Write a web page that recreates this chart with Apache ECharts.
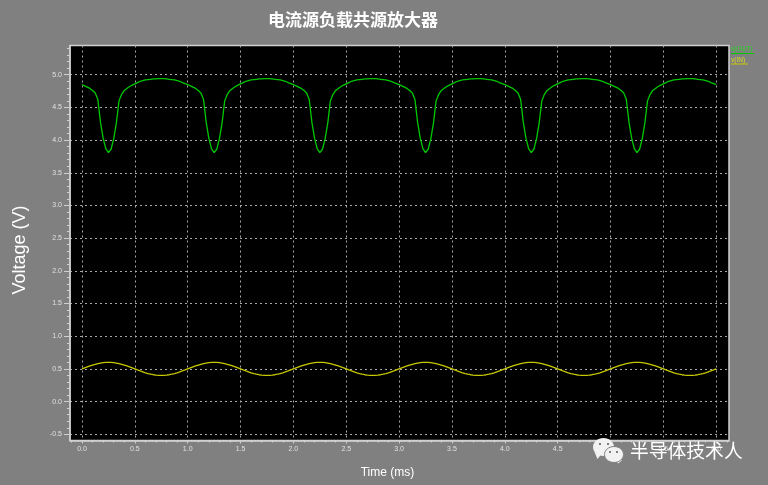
<!DOCTYPE html>
<html><head><meta charset="utf-8">
<style>html,body{margin:0;padding:0;background:#808080}#c{width:768px;height:485px}</style>
<script src="https://cdn.jsdelivr.net/npm/echarts@6/dist/echarts.min.js"></script>
</head><body><div id="c"></div>
<script>
const titleText = '电流源负载共源放大器';
const xName = 'Time (ms)';
const yName = 'Voltage (V)';
const watermark = '半导体技术人';
const xMajor = [0,0.5,1,1.5,2,2.5,3,3.5,4,4.5,5,5.5,6];
const yMajor = [-0.5,0,0.5,1,1.5,2,2.5,3,3.5,4,4.5,5];
const xMinor = [-0.1,0,0.1,0.2,0.3,0.4,0.6,0.7,0.8,0.9,1.1,1.2,1.3,1.4,1.6,1.7,1.8,1.9,2.1,2.2,2.3,2.4,2.6,2.7,2.8,2.9,3.1,3.2,3.3,3.4,3.6,3.7,3.8,3.9,4.1,4.2,4.3,4.4,4.6,4.7,4.8,4.9,5.1,5.2,5.3,5.4,5.6,5.7,5.8,5.9,6.1];
const yMinor = [-0.5,-0.4,-0.3,-0.2,-0.1,0.1,0.2,0.3,0.4,0.6,0.7,0.8,0.9,1.1,1.2,1.3,1.4,1.6,1.7,1.8,1.9,2.1,2.2,2.3,2.4,2.6,2.7,2.8,2.9,3.1,3.2,3.3,3.4,3.6,3.7,3.8,3.9,4.1,4.2,4.3,4.4,4.6,4.7,4.8,4.9,5.1,5.2,5.3,5.4];
const time = [
0,0.025,0.05,0.075,0.1,0.125,0.15,0.175,0.2,0.225,0.25,0.275,0.3,0.325,0.35,0.375,0.4,0.425,0.45,0.475,0.5,0.525,0.55,0.575,0.6,0.625,0.65,0.675,0.7,0.725,0.75,0.775,0.8,0.825,0.85,0.875,0.9,0.925,0.95,0.975,
1,1.025,1.05,1.075,1.1,1.125,1.15,1.175,1.2,1.225,1.25,1.275,1.3,1.325,1.35,1.375,1.4,1.425,1.45,1.475,1.5,1.525,1.55,1.575,1.6,1.625,1.65,1.675,1.7,1.725,1.75,1.775,1.8,1.825,1.85,1.875,1.9,1.925,1.95,1.975,
2,2.025,2.05,2.075,2.1,2.125,2.15,2.175,2.2,2.225,2.25,2.275,2.3,2.325,2.35,2.375,2.4,2.425,2.45,2.475,2.5,2.525,2.55,2.575,2.6,2.625,2.65,2.675,2.7,2.725,2.75,2.775,2.8,2.825,2.85,2.875,2.9,2.925,2.95,2.975,
3,3.025,3.05,3.075,3.1,3.125,3.15,3.175,3.2,3.225,3.25,3.275,3.3,3.325,3.35,3.375,3.4,3.425,3.45,3.475,3.5,3.525,3.55,3.575,3.6,3.625,3.65,3.675,3.7,3.725,3.75,3.775,3.8,3.825,3.85,3.875,3.9,3.925,3.95,3.975,
4,4.025,4.05,4.075,4.1,4.125,4.15,4.175,4.2,4.225,4.25,4.275,4.3,4.325,4.35,4.375,4.4,4.425,4.45,4.475,4.5,4.525,4.55,4.575,4.6,4.625,4.65,4.675,4.7,4.725,4.75,4.775,4.8,4.825,4.85,4.875,4.9,4.925,4.95,4.975,
5,5.025,5.05,5.075,5.1,5.125,5.15,5.175,5.2,5.225,5.25,5.275,5.3,5.325,5.35,5.375,5.4,5.425,5.45,5.475,5.5,5.525,5.55,5.575,5.6,5.625,5.65,5.675,5.7,5.725,5.75,5.775,5.8,5.825,5.85,5.875,5.9,5.925,5.95,5.975,
6];
const vOut = [
4.85,4.83,4.81,4.79,4.76,4.72,4.62,4.27,4.03,3.87,3.81,3.86,4.02,4.26,4.60,4.70,4.76,4.79,4.82,4.84,4.86,4.88,4.90,4.91,4.92,4.925,4.93,4.935,4.935,4.94,4.94,4.94,4.935,4.93,4.925,4.92,4.91,4.90,4.88,4.865,
4.85,4.83,4.81,4.79,4.76,4.72,4.62,4.27,4.03,3.87,3.81,3.86,4.02,4.26,4.60,4.70,4.76,4.79,4.82,4.84,4.86,4.88,4.90,4.91,4.92,4.925,4.93,4.935,4.935,4.94,4.94,4.94,4.935,4.93,4.925,4.92,4.91,4.90,4.88,4.865,
4.85,4.83,4.81,4.79,4.76,4.72,4.62,4.27,4.03,3.87,3.81,3.86,4.02,4.26,4.60,4.70,4.76,4.79,4.82,4.84,4.86,4.88,4.90,4.91,4.92,4.925,4.93,4.935,4.935,4.94,4.94,4.94,4.935,4.93,4.925,4.92,4.91,4.90,4.88,4.865,
4.85,4.83,4.81,4.79,4.76,4.72,4.62,4.27,4.03,3.87,3.81,3.86,4.02,4.26,4.60,4.70,4.76,4.79,4.82,4.84,4.86,4.88,4.90,4.91,4.92,4.925,4.93,4.935,4.935,4.94,4.94,4.94,4.935,4.93,4.925,4.92,4.91,4.90,4.88,4.865,
4.85,4.83,4.81,4.79,4.76,4.72,4.62,4.27,4.03,3.87,3.81,3.86,4.02,4.26,4.60,4.70,4.76,4.79,4.82,4.84,4.86,4.88,4.90,4.91,4.92,4.925,4.93,4.935,4.935,4.94,4.94,4.94,4.935,4.93,4.925,4.92,4.91,4.90,4.88,4.865,
4.85,4.83,4.81,4.79,4.76,4.72,4.62,4.27,4.03,3.87,3.81,3.86,4.02,4.26,4.60,4.70,4.76,4.79,4.82,4.84,4.86,4.88,4.90,4.91,4.92,4.925,4.93,4.935,4.935,4.94,4.94,4.94,4.935,4.93,4.925,4.92,4.91,4.90,4.88,4.865,
4.85];
const vIn = [
0.5,0.516,0.531,0.545,0.559,0.571,0.581,0.589,0.595,0.599,0.6,0.599,0.595,0.589,0.581,0.571,0.559,0.545,0.531,0.516,0.5,0.484,0.469,0.455,0.441,0.429,0.419,0.411,0.405,0.401,0.4,0.401,0.405,0.411,0.419,0.429,0.441,0.455,0.469,0.484,
0.5,0.516,0.531,0.545,0.559,0.571,0.581,0.589,0.595,0.599,0.6,0.599,0.595,0.589,0.581,0.571,0.559,0.545,0.531,0.516,0.5,0.484,0.469,0.455,0.441,0.429,0.419,0.411,0.405,0.401,0.4,0.401,0.405,0.411,0.419,0.429,0.441,0.455,0.469,0.484,
0.5,0.516,0.531,0.545,0.559,0.571,0.581,0.589,0.595,0.599,0.6,0.599,0.595,0.589,0.581,0.571,0.559,0.545,0.531,0.516,0.5,0.484,0.469,0.455,0.441,0.429,0.419,0.411,0.405,0.401,0.4,0.401,0.405,0.411,0.419,0.429,0.441,0.455,0.469,0.484,
0.5,0.516,0.531,0.545,0.559,0.571,0.581,0.589,0.595,0.599,0.6,0.599,0.595,0.589,0.581,0.571,0.559,0.545,0.531,0.516,0.5,0.484,0.469,0.455,0.441,0.429,0.419,0.411,0.405,0.401,0.4,0.401,0.405,0.411,0.419,0.429,0.441,0.455,0.469,0.484,
0.5,0.516,0.531,0.545,0.559,0.571,0.581,0.589,0.595,0.599,0.6,0.599,0.595,0.589,0.581,0.571,0.559,0.545,0.531,0.516,0.5,0.484,0.469,0.455,0.441,0.429,0.419,0.411,0.405,0.401,0.4,0.401,0.405,0.411,0.419,0.429,0.441,0.455,0.469,0.484,
0.5,0.516,0.531,0.545,0.559,0.571,0.581,0.589,0.595,0.599,0.6,0.599,0.595,0.589,0.581,0.571,0.559,0.545,0.531,0.516,0.5,0.484,0.469,0.455,0.441,0.429,0.419,0.411,0.405,0.401,0.4,0.401,0.405,0.411,0.419,0.429,0.441,0.455,0.469,0.484,
0.5];

const GREEN='#00c800', YELLOW='#c8c800', AX='#d0d0d0', LBL='#e0e0e0';
const XMIN=-0.1135, XMAX=6.121, YMIN=-0.595, YMAX=5.447;
const chart = echarts.init(document.getElementById('c'), null, {renderer:'canvas'});
const font='"Liberation Sans",Arial,sans-serif';
const bubble=(cx,cy,rx,ry,tx,ty,stroke)=>[
  {type:'polygon',shape:{points:[[cx+tx-3,cy+ry-4],[cx+tx+4,cy+ry-2],[cx+tx,cy+ty]]},style:{fill:'#f2f2f2'},z:20},
  {type:'ellipse',shape:{cx,cy,rx,ry},style:{fill:'#f2f2f2',stroke:stroke||'none',lineWidth:1},z:20}
];
const eye=(cx,cy)=>({type:'circle',shape:{cx,cy,r:1},style:{fill:'#555'},z:22});
chart.setOption({
  animation:false,
  backgroundColor:'#808080',
  title:{text:titleText,left:348,top:6,textAlign:'center',
    textStyle:{color:'#ffffff',fontSize:17,fontWeight:'bold',fontFamily:'"Noto Sans CJK SC"'}},
  grid:{left:70,top:45.5,width:659,height:395,show:true,backgroundColor:'#000',borderColor:AX,borderWidth:1.5,outerBoundsMode:'none'},
  xAxis:[{
    type:'value',min:XMIN,max:XMAX,interval:0.5,position:'bottom',
    name:xName,nameLocation:'middle',nameGap:26,
    nameTextStyle:{color:'#fff',fontSize:12,fontFamily:font,padding:[0,24,0,0]},
    axisLine:{show:true,onZero:false,lineStyle:{color:AX,width:1.5}},
    axisTick:{show:true,customValues:xMajor,length:3,lineStyle:{color:AX}},
    axisLabel:{customValues:xMajor,color:LBL,fontSize:7,margin:5,fontFamily:font,formatter:v=>v.toFixed(1)},
    splitLine:{show:true,lineStyle:{color:'#a8a8a8',type:[2,3],width:1}}
  },{
    type:'value',min:XMIN,max:XMAX,position:'bottom',offset:0,
    axisLine:{show:false,onZero:false},axisLabel:{show:false},splitLine:{show:false},
    axisTick:{show:true,customValues:xMinor,length:2,lineStyle:{color:AX}}
  }],
  yAxis:[{
    type:'value',min:YMIN,max:YMAX,interval:0.5,position:'left',
    name:yName,nameLocation:'middle',nameGap:41,
    nameTextStyle:{color:'#fff',fontSize:18,fontFamily:font,padding:[0,14,0,0]},
    axisLine:{show:true,onZero:false,lineStyle:{color:AX,width:1.5}},
    axisTick:{show:true,customValues:yMajor,length:6,lineStyle:{color:AX}},
    axisLabel:{customValues:yMajor,color:LBL,fontSize:7,margin:8,fontFamily:font,formatter:v=>v.toFixed(1)},
    splitLine:{show:true,lineStyle:{color:'#a8a8a8',type:[2,3],width:1}}
  },{
    type:'value',min:YMIN,max:YMAX,position:'left',offset:0,
    axisLine:{show:false,onZero:false},axisLabel:{show:false},splitLine:{show:false},
    axisTick:{show:true,customValues:yMinor,length:3,lineStyle:{color:AX}}
  }],
  series:[
    {name:'v(OUT)',type:'line',showSymbol:false,smooth:false,z:5,clip:true,
     lineStyle:{color:GREEN,width:1.3},data:time.map((t,i)=>[t,vOut[i]])},
    {name:'v(IN)',type:'line',showSymbol:false,smooth:false,z:5,clip:true,
     lineStyle:{color:YELLOW,width:1.3},data:time.map((t,i)=>[t,vIn[i]])}
  ],
  graphic:[
    {type:'text',left:731,top:46,style:{text:'v(OUT)',fill:'#22dd22',font:'6.5px '+font},z:10},
    {type:'line',shape:{x1:731,y1:53.5,x2:754,y2:53.5},style:{stroke:GREEN,lineWidth:1},z:10},
    {type:'text',left:731,top:56.5,style:{text:'v(IN)',fill:'#dddd22',font:'6.5px '+font},z:10},
    {type:'line',shape:{x1:731,y1:64,x2:748,y2:64},style:{stroke:YELLOW,lineWidth:1},z:10},
    ...bubble(603.5,447,10.5,9,-6,12),
    ...bubble(614,454.5,9.5,8,4,9,'#808080'),
    eye(600,444),eye(608,444),eye(610,452),eye(617,452),
    {type:'text',left:630,top:441,style:{text:watermark,fill:'#ffffff',font:'18.8px "Noto Sans CJK SC"',
      shadowColor:'rgba(0,0,0,0.6)',shadowBlur:2,shadowOffsetX:1,shadowOffsetY:1},z:20}
  ]
});
</script></body></html>
